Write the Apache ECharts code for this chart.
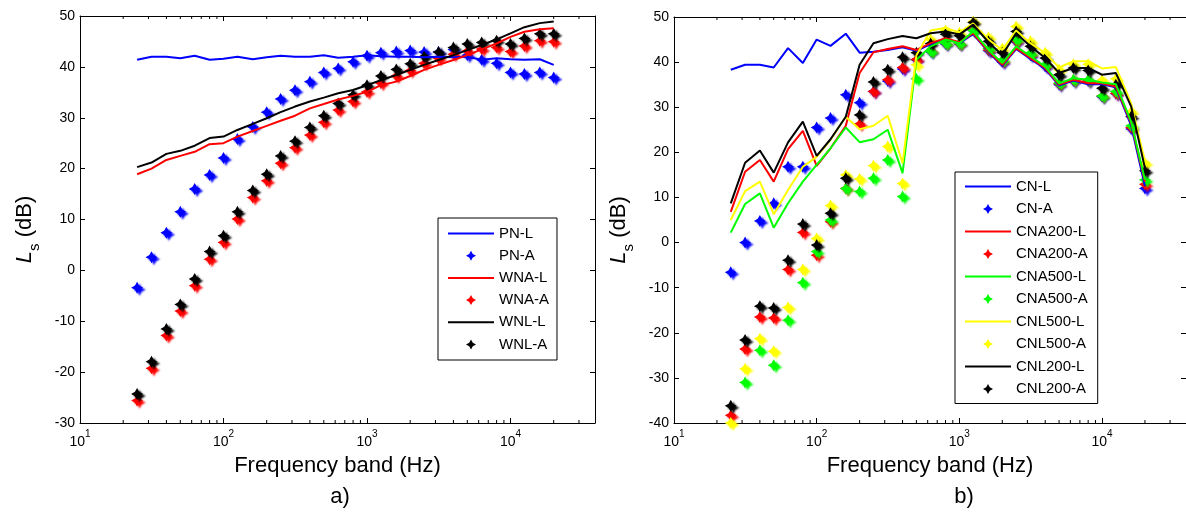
<!DOCTYPE html>
<html><head><meta charset="utf-8">
<script src="https://cdn.jsdelivr.net/npm/echarts@6/dist/echarts.min.js"></script>
<style>html,body{margin:0;padding:0;background:#fff}#c{width:1186px;height:513px}</style>
</head><body><div id="c"></div>
<script>
// one-third octave band centre frequencies (Hz)
const freq = [25,31.5,40,50,63,80,100,125,160,200,250,315,400,500,630,800,1000,1250,1600,2000,2500,3150,4000,5000,6300,8000,10000,12500,16000,20000];

// ---- panel a) ----
const PN_L  = [41.4,42.0,42.0,41.7,42.2,41.4,41.6,42.0,41.5,41.9,42.2,42.0,42.0,42.3,41.8,42.0,42.3,42.1,42.0,42.0,41.9,42.0,41.9,42.0,41.4,41.7,41.5,41.4,41.5,40.4];
const PN_A  = [-3.4,2.6,7.4,11.5,16.0,18.75,22.1,25.8,28.2,31.1,33.7,35.4,37.1,38.9,39.7,41.0,42.2,42.8,43.0,43.2,42.9,42.9,43.4,42.3,41.4,40.7,38.9,38.6,38.9,37.9];
const WNA_L = [18.9,20.0,21.7,22.5,23.3,24.8,25.0,26.3,27.4,28.4,29.4,30.4,31.85,32.7,33.6,34.3,35.1,36.4,37.1,38.2,39.4,40.4,41.35,42.3,43.45,44.6,45.9,46.9,47.4,47.6];
const WNA_A = [-25.6,-19.25,-12.8,-8.0,-3.0,2.2,5.5,10.1,14.3,17.6,21.05,24.1,26.6,29.1,31.5,33.2,35.1,36.8,38.2,39.25,40.7,41.7,42.5,43.1,43.5,43.8,43.0,44.1,45.15,44.95];
const WNL_L = [20.3,21.2,22.9,23.5,24.5,26.0,26.3,27.6,28.8,29.9,31.1,32.2,33.2,33.95,34.8,35.45,36.4,37.4,38.4,39.4,40.4,41.35,42.3,43.3,44.3,45.4,46.6,47.8,48.6,48.9];
const WNL_A = [-24.3,-17.95,-11.5,-6.7,-1.7,3.7,6.8,11.5,15.7,18.9,22.5,25.4,28.1,30.4,32.8,34.5,36.4,38.2,39.5,40.6,42.0,42.9,43.8,44.5,44.8,45.15,44.5,45.6,46.5,46.5];

// ---- panel b) ----
const CN_L     = [38.3,39.4,39.4,38.8,43.1,39.8,45.0,43.6,46.3,42.1,42.3,42.7,43.3,42.5,44.0,45.1,44.2,46.2,42.2,39.2,42.9,40.7,38.5,34.8,35.9,35.1,35.1,34.4,26.0,12.5];
const CN_A     = [-6.6,0.0,4.8,8.7,16.8,16.8,25.5,27.6,32.75,31.0,33.5,35.8,38.5,40.5,42.3,44.0,44.0,47.0,42.5,40.0,44.5,41.5,39.0,35.0,35.8,35.8,32.3,33.0,25.2,12.0];
const CNA200_L = [6.8,15.7,18.3,13.5,20.7,24.75,17.0,20.9,25.9,37.6,42.2,42.9,43.5,42.7,44.2,45.3,44.4,46.4,42.4,39.4,43.1,40.9,38.7,35.0,36.1,35.3,35.3,34.6,26.5,13.5];
const CNA200_A = [-38.3,-23.6,-16.5,-16.7,-5.95,2.25,-2.8,4.6,12.0,26.3,33.5,36.1,38.8,40.6,42.5,44.2,44.1,47.2,42.7,40.3,44.7,41.8,39.3,35.2,36.0,36.0,32.5,33.1,25.5,12.9];
const CNA500_L = [2.2,8.55,10.9,3.3,8.7,13.5,17.2,20.9,25.5,22.25,22.9,25.0,15.4,40.5,43.5,45.0,44.2,46.8,42.7,39.8,43.5,41.3,39.0,35.3,36.4,36.1,35.5,35.1,26.8,13.9];
const CNA500_A = [null,-31.0,-23.9,-27.2,-17.2,-8.9,-2.0,5.0,12.0,11.3,14.25,18.3,10.2,36.3,42.4,44.2,44.2,47.0,43.0,40.5,45.0,42.0,39.5,35.35,36.1,36.1,32.5,33.5,25.9,13.9];
const CNL500_L = [5.0,11.4,13.5,6.3,11.65,16.8,19.0,22.75,27.9,25.1,25.9,28.1,17.6,41.5,47.0,47.6,46.6,48.6,45.0,42.7,47.0,44.2,42.0,38.8,40.2,40.2,38.6,38.9,30.9,18.0];
const CNL500_A = [-40.0,-28.0,-21.3,-24.1,-14.4,-5.95,0.9,8.2,15.0,14.1,17.05,21.3,13.1,39.4,45.0,47.0,46.5,49.0,45.5,43.0,47.9,44.6,42.1,38.3,39.5,39.5,36.0,36.3,29.0,17.6];
const CNL200_L = [8.7,17.7,20.4,15.5,22.2,26.8,19.2,22.9,27.9,39.4,44.2,45.1,45.8,45.3,46.4,46.8,46.1,48.3,44.4,41.6,46.4,43.5,40.9,37.6,38.7,38.7,37.2,37.6,30.2,16.5];
const CNL200_A = [-36.2,-21.6,-14.1,-14.5,-3.9,4.1,-0.55,6.5,14.25,28.3,35.6,38.3,41.1,42.1,44.1,46.2,45.85,48.8,44.6,42.1,46.8,43.5,40.9,37.2,38.7,38.15,34.2,35.0,27.9,15.9];

// axis ranges and tick labels
const X_MIN = 10, X_MAX = 38800;
const Y_A = [-30, 50], Y_B = [-40, 50];
const decades = [10, 100, 1000, 10000];

const minorTickValues = [];
decades.forEach(d => { for (let k = 2; k <= 9; k++) { if (d * k < X_MAX) minorTickValues.push(d * k); } });

const FONT = 'Liberation Sans, Arial, sans-serif';
const STAR = 'path://M0,-10 L3.6,-3.6 L10,0 L3.6,3.6 L0,10 L-3.6,3.6 L-10,0 L-3.6,-3.6 Z';
const LINE_ICON = 'path://M0,0 M46,10 M0,4 L46,4 L46,6 L0,6 Z';

const pairs = vals => freq.map((f, i) => [f, vals[i]]).filter(p => p[1] != null);

function lineSeries(name, vals, color, xi, yi) {
  return { name, type: 'line', data: pairs(vals), xAxisIndex: xi, yAxisIndex: yi,
    symbol: 'none', lineStyle: { color, width: 2 }, itemStyle: { color },
    silent: true, animation: false, emphasis: { disabled: true } };
}
function markSeries(name, vals, color, xi, yi) {
  return { name, type: 'scatter', data: pairs(vals), xAxisIndex: xi, yAxisIndex: yi,
    symbol: STAR, symbolSize: 12,
    itemStyle: { color, opacity: 1, shadowColor: color, shadowBlur: 2, shadowOffsetX: 2.5, shadowOffsetY: 2 },
    silent: true, animation: false, emphasis: { disabled: true } };
}
function minorTicks(yr) {
  return function (params, api) {
    const v = api.value(0);
    const b = api.coord([v, yr[0]]);
    const t = api.coord([v, yr[1]]);
    return { type: 'group', children: [
      { type: 'line', shape: { x1: b[0], y1: b[1], x2: b[0], y2: b[1] - 3 }, style: { stroke: '#000', lineWidth: 1 } },
      { type: 'line', shape: { x1: t[0], y1: t[1], x2: t[0], y2: t[1] + 3 }, style: { stroke: '#000', lineWidth: 1 } }
    ]};
  };
}

const axisLine = { show: true, onZero: false, lineStyle: { color: '#000', width: 1 } };
function xAx(gi, pos, labels) {
  return { type: 'log', logBase: 10, gridIndex: gi, position: pos, min: X_MIN, max: X_MAX,
    axisLine, splitLine: { show: false },
    axisTick: { show: true, inside: true, length: 5, lineStyle: { color: '#000' } },
    axisLabel: { show: labels, margin: 6, showMaxLabel: false, color: '#000',
      formatter: v => { const e = Math.log10(v); return Math.abs(e - Math.round(e)) < 1e-6 ? '{b|10}{s|' + Math.round(e) + '}' : ''; },
      rich: { b: { fontFamily: FONT, fontSize: 14, lineHeight: 26, color: '#000' },
              s: { fontFamily: FONT, fontSize: 10, lineHeight: 10, verticalAlign: 'top', color: '#000' } } },
    name: labels ? 'Frequency band (Hz)' : '', nameLocation: 'middle', nameGap: 32,
    nameTextStyle: { fontFamily: FONT, fontSize: 22, color: '#000' } };
}
function yAx(gi, pos, yr, labels) {
  return { type: 'value', gridIndex: gi, position: pos, min: yr[0], max: yr[1], interval: 10,
    axisLine, splitLine: { show: false },
    axisTick: { show: true, inside: true, length: 5, lineStyle: { color: '#000' } },
    axisLabel: { show: labels, margin: 5, color: '#000', fontFamily: FONT, fontSize: 14 },
    name: labels ? '{i|L}{s|s}{n| (dB)}' : '', nameLocation: 'middle', nameGap: 38,
    nameTextStyle: { padding: [0, 20, 0, 0],
      rich: { i: { fontFamily: FONT, fontStyle: 'italic', fontSize: 22, lineHeight: 34, color: '#000' },
              s: { fontFamily: FONT, fontSize: 15, lineHeight: 14, verticalAlign: 'bottom', color: '#000' },
              n: { fontFamily: FONT, fontSize: 22, lineHeight: 34, color: '#000' } } } };
}

const legendBase = { orient: 'vertical', selectedMode: false, itemWidth: 46, itemHeight: 10,
  backgroundColor: '#fff', borderColor: '#000', borderWidth: 1,
  textStyle: { fontFamily: FONT, fontSize: 15, color: '#000' } };
const legendItems = names => names.map(n => /-L$/.test(n) ? { name: n, icon: LINE_ICON } : { name: n });

const option = {
  backgroundColor: '#fff',
  animation: false,
  title: [
    { text: 'a)', left: 340, top: 486, textAlign: 'center', padding: 0, textStyle: { fontFamily: FONT, fontSize: 22, fontWeight: 'normal', color: '#000' } },
    { text: 'b)', left: 964, top: 486, textAlign: 'center', padding: 0, textStyle: { fontFamily: FONT, fontSize: 22, fontWeight: 'normal', color: '#000' } }
  ],
  grid: [
    { left: 80, top: 16, width: 515, height: 407 },
    { left: 674, top: 17, width: 516, height: 406 }
  ],
  xAxis: [ xAx(0, 'bottom', true), xAx(0, 'top', false), xAx(1, 'bottom', true), xAx(1, 'top', false) ],
  yAxis: [ yAx(0, 'left', Y_A, true), yAx(0, 'right', Y_A, false), yAx(1, 'left', Y_B, true), yAx(1, 'right', Y_B, false) ],
  legend: [
    Object.assign({}, legendBase, { left: 438, top: 218, padding: [8, 8, 8, 10], itemGap: 7.2,
      data: legendItems(['PN-L', 'PN-A', 'WNA-L', 'WNA-A', 'WNL-L', 'WNL-A']) }),
    Object.assign({}, legendBase, { left: 955, top: 172, padding: [7, 10, 7, 10], itemGap: 7.5,
      data: legendItems(['CN-L', 'CN-A', 'CNA200-L', 'CNA200-A', 'CNA500-L', 'CNA500-A', 'CNL500-L', 'CNL500-A', 'CNL200-L', 'CNL200-A']) })
  ],
  series: [
    lineSeries('PN-L', PN_L, '#0000ff', 0, 0),
    markSeries('PN-A', PN_A, '#0000ff', 0, 0),
    lineSeries('WNA-L', WNA_L, '#ff0000', 0, 0),
    markSeries('WNA-A', WNA_A, '#ff0000', 0, 0),
    lineSeries('WNL-L', WNL_L, '#000000', 0, 0),
    markSeries('WNL-A', WNL_A, '#000000', 0, 0),
    { type: 'custom', xAxisIndex: 0, yAxisIndex: 0, data: minorTickValues.map(v => [v, 0]), renderItem: minorTicks(Y_A), silent: true, z: 5 },

    lineSeries('CN-L', CN_L, '#0000ff', 2, 2),
    markSeries('CN-A', CN_A, '#0000ff', 2, 2),
    lineSeries('CNA200-L', CNA200_L, '#ff0000', 2, 2),
    markSeries('CNA200-A', CNA200_A, '#ff0000', 2, 2),
    lineSeries('CNA500-L', CNA500_L, '#00ff00', 2, 2),
    markSeries('CNA500-A', CNA500_A, '#00ff00', 2, 2),
    lineSeries('CNL500-L', CNL500_L, '#ffff00', 2, 2),
    markSeries('CNL500-A', CNL500_A, '#ffff00', 2, 2),
    lineSeries('CNL200-L', CNL200_L, '#000000', 2, 2),
    markSeries('CNL200-A', CNL200_A, '#000000', 2, 2),
    { type: 'custom', xAxisIndex: 2, yAxisIndex: 2, data: minorTickValues.map(v => [v, 0]), renderItem: minorTicks(Y_B), silent: true, z: 5 }
  ]
};

const chart = echarts.init(document.getElementById('c'), null, { renderer: 'canvas' });
chart.setOption(option);
</script>
</body></html>
